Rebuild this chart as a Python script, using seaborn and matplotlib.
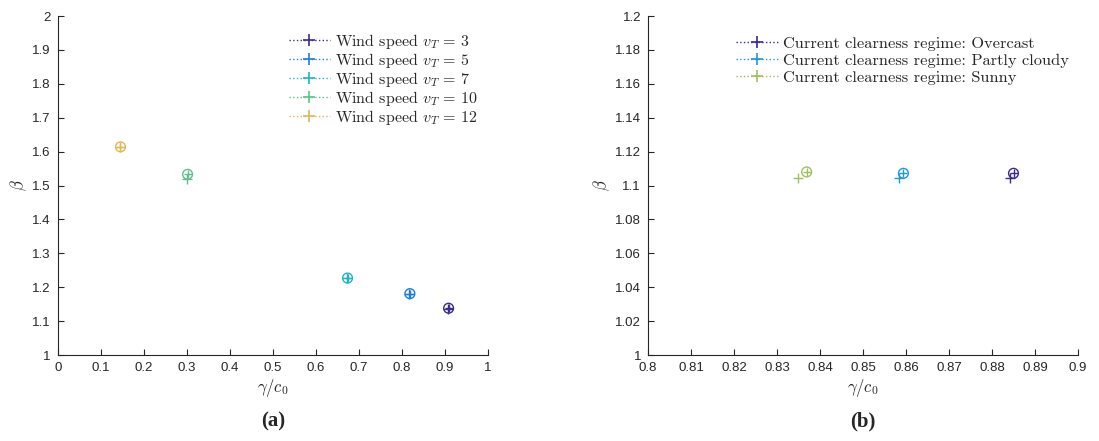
import matplotlib
matplotlib.use("Agg")
import matplotlib.pyplot as plt
import seaborn as sns
import pandas as pd
from matplotlib.lines import Line2D

# ---- data ----
speeds = [3, 5, 7, 10, 12]
gamma_plus_a = [0.908, 0.818, 0.673, 0.300, 0.145]
beta_plus_a = [1.137, 1.180, 1.226, 1.520, 1.614]
gamma_circ_a = [0.909, 0.819, 0.674, 0.302, 0.146]
beta_circ_a = [1.138, 1.181, 1.227, 1.533, 1.614]
colors_a = ["#3b2d8e", "#1a7fe0", "#1fb3c8", "#5cc28a", "#dcb85a"]

regimes = ["Overcast", "Partly cloudy", "Sunny"]
gamma_plus_b = [0.8842, 0.8583, 0.8350]
beta_plus_b = [1.1045, 1.1045, 1.1046]
gamma_circ_b = [0.8850, 0.8594, 0.8369]
beta_circ_b = [1.1072, 1.1072, 1.1080]
colors_b = ["#3a2a96", "#1a9ad8", "#a0c060"]

xticks_a = [0, 0.1, 0.2, 0.3, 0.4, 0.5, 0.6, 0.7, 0.8, 0.9, 1]
yticks_a = [1, 1.1, 1.2, 1.3, 1.4, 1.5, 1.6, 1.7, 1.8, 1.9, 2]
xticks_b = [0.8, 0.81, 0.82, 0.83, 0.84, 0.85, 0.86, 0.87, 0.88, 0.89, 0.9]
yticks_b = [1, 1.02, 1.04, 1.06, 1.08, 1.1, 1.12, 1.14, 1.16, 1.18, 1.2]

sns.set_theme(style="white")
plt.rcParams["mathtext.fontset"] = "cm"
plt.rcParams["font.family"] = ["Liberation Sans", "DejaVu Sans"]

fig = plt.figure(figsize=(10.99, 4.41), dpi=100)
axw, axh, axb = 0.3913, 0.7687, 0.195
ax1 = fig.add_axes([0.0525, axb, axw, axh])
ax2 = fig.add_axes([0.5896, axb, axw, axh])


def fmt(v):
    s = ("%.2f" % v).rstrip("0").rstrip(".")
    return s


def draw(ax, gp, bp, gc, bc, cols, labels):
    handles = []
    for i, c in enumerate(cols):
        dfp = pd.DataFrame({"x": [gp[i]], "y": [bp[i]]})
        dfc = pd.DataFrame({"x": [gc[i]], "y": [bc[i]]})
        sns.scatterplot(data=dfp, x="x", y="y", ax=ax, marker="+", s=60,
                        color=c, linewidth=1.0, legend=False, zorder=3)
        sns.scatterplot(data=dfc, x="x", y="y", ax=ax, marker="o", s=50,
                        facecolors="none", edgecolor=c, linewidth=1.0,
                        legend=False, zorder=3)
        sns.scatterplot(data=dfc, x="x", y="y", ax=ax, marker="+", s=40,
                        color=c, linewidth=1.0, legend=False, zorder=3)
        handles.append(Line2D([], [], color=c, linestyle=":", linewidth=1.0,
                              marker="+", markersize=8, markeredgewidth=1.2,
                              label=labels[i]))
    return handles


labels_a = [r"Wind speed $v_T\,=\,%d$" % s for s in speeds]
labels_b = ["Current clearness regime: %s" % r for r in regimes]

h1 = draw(ax1, gamma_plus_a, beta_plus_a, gamma_circ_a, beta_circ_a, colors_a, labels_a)
h2 = draw(ax2, gamma_plus_b, beta_plus_b, gamma_circ_b, beta_circ_b, colors_b, labels_b)

for ax, xt, yt, h, ls, bpad, fs, dx in [(ax1, xticks_a, yticks_a, h1, 0.0, 0.6, 11.5, 0.014),
                                        (ax2, xticks_b, yticks_b, h2, 0.15, 0.85, 11.8, 0.027)]:
    ax.set_xlim(xt[0], xt[-1])
    ax.set_ylim(yt[0], yt[-1])
    ax.set_xticks(xt)
    ax.set_yticks(yt)
    ax.set_xticklabels([fmt(v) for v in xt])
    ax.set_yticklabels([fmt(v) for v in yt])
    ax.tick_params(direction="in", length=4, width=0.8, labelsize=9.5,
                   colors="#262626", pad=5, bottom=True, left=True)
    for s in ["top", "right"]:
        ax.spines[s].set_visible(False)
    for s in ["left", "bottom"]:
        ax.spines[s].set_color("#262626")
        ax.spines[s].set_linewidth(0.8)
    ax.set_xlabel(r"$\gamma/c_0$", fontsize=12, color="#262626", labelpad=2)
    ax.set_ylabel(r"$\beta$", fontsize=12, color="#262626", labelpad=2)
    leg = ax.legend(handles=h, loc="upper right", frameon=False,
                    bbox_to_anchor=(1.0 + dx, 1.0),
                    prop={"family": "cmr10", "size": fs},
                    handlelength=2.6, handletextpad=0.3, labelspacing=ls,
                    borderaxespad=bpad)

fig.text(0.2482, 0.022, "(a)", ha="center", va="bottom", fontsize=15,
         fontweight="bold", family=["Liberation Serif", "DejaVu Serif"])
fig.text(0.7853, 0.022, "(b)", ha="center", va="bottom", fontsize=15,
         fontweight="bold", family=["Liberation Serif", "DejaVu Serif"])

fig.savefig("out.png", dpi=100)
